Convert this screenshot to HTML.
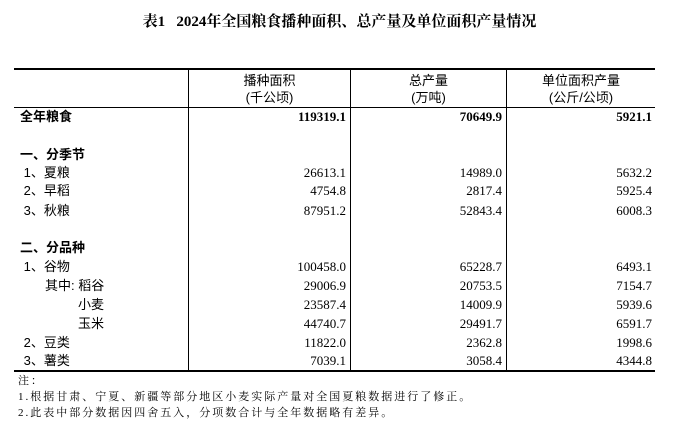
<!DOCTYPE html><html><head><meta charset="utf-8"><style>
body{margin:0;width:679px;height:432px;background:#fff;position:relative;overflow:hidden;font-family:"Liberation Serif","Noto Sans CJK SC",serif;color:#000}
div{position:absolute;white-space:nowrap}
.t{left:0;width:679px;text-align:center;top:10px;font-size:15px;font-weight:bold;font-family:"Liberation Serif","Noto Serif CJK SC",serif}
.h{top:72px;text-align:center;font-size:13px;line-height:17px;font-family:"Liberation Sans","Noto Sans CJK SC",sans-serif}
.l{left:20px;font-size:13px;line-height:18px;font-family:"Liberation Sans","Noto Sans CJK SC",sans-serif}
.n{font-size:13px;line-height:18px;text-align:right;width:120px}
.b{font-weight:bold}
.ln{background:#000}
.note{left:18px;font-size:11px;line-height:16px;letter-spacing:2px;font-family:"Liberation Serif","Noto Serif CJK SC",serif}
</style></head><body>
<div class="t">表1&nbsp;&nbsp;&nbsp;2024年全国粮食播种面积、总产量及单位面积产量情况</div>
<div class="ln" style="left:14px;top:68px;width:641px;height:2px"></div>
<div class="ln" style="left:14px;top:107px;width:641px;height:1px"></div>
<div class="ln" style="left:14px;top:370px;width:641px;height:2px"></div>
<div class="ln" style="left:188px;top:69px;width:1px;height:302px"></div>
<div class="ln" style="left:350px;top:69px;width:1px;height:302px"></div>
<div class="ln" style="left:506px;top:69px;width:1px;height:302px"></div>
<div class="h" style="left:189px;width:161px">播种面积<br>(千公顷)</div>
<div class="h" style="left:351px;width:155px">总产量<br>(万吨)</div>
<div class="h" style="left:507px;width:148px">单位面积产量<br>(公斤/公顷)</div>

<div class="l b" style="top:108px">全年粮食</div>
<div class="n b" style="left:226px;top:108px">119319.1</div>
<div class="n b" style="left:382px;top:108px">70649.9</div>
<div class="n b" style="left:532px;top:108px">5921.1</div>

<div class="l b" style="top:146px">一、分季节</div>
<div class="l" style="top:164px">&nbsp;1、夏粮</div>
<div class="n" style="left:226px;top:164px">26613.1</div><div class="n" style="left:382px;top:164px">14989.0</div><div class="n" style="left:532px;top:164px">5632.2</div>
<div class="l" style="top:182px">&nbsp;2、早稻</div>
<div class="n" style="left:226px;top:182px">4754.8</div><div class="n" style="left:382px;top:182px">2817.4</div><div class="n" style="left:532px;top:182px">5925.4</div>
<div class="l" style="top:202px">&nbsp;3、秋粮</div>
<div class="n" style="left:226px;top:202px">87951.2</div><div class="n" style="left:382px;top:202px">52843.4</div><div class="n" style="left:532px;top:202px">6008.3</div>

<div class="l b" style="top:239px">二、分品种</div>
<div class="l" style="top:258px">&nbsp;1、谷物</div>
<div class="n" style="left:226px;top:258px">100458.0</div><div class="n" style="left:382px;top:258px">65228.7</div><div class="n" style="left:532px;top:258px">6493.1</div>
<div class="l" style="top:277px;left:45px">其中: 稻谷</div>
<div class="n" style="left:226px;top:277px">29006.9</div><div class="n" style="left:382px;top:277px">20753.5</div><div class="n" style="left:532px;top:277px">7154.7</div>
<div class="l" style="top:296px;left:78px">小麦</div>
<div class="n" style="left:226px;top:296px">23587.4</div><div class="n" style="left:382px;top:296px">14009.9</div><div class="n" style="left:532px;top:296px">5939.6</div>
<div class="l" style="top:315px;left:78px">玉米</div>
<div class="n" style="left:226px;top:315px">44740.7</div><div class="n" style="left:382px;top:315px">29491.7</div><div class="n" style="left:532px;top:315px">6591.7</div>
<div class="l" style="top:334px">&nbsp;2、豆类</div>
<div class="n" style="left:226px;top:334px">11822.0</div><div class="n" style="left:382px;top:334px">2362.8</div><div class="n" style="left:532px;top:334px">1998.6</div>
<div class="l" style="top:352px">&nbsp;3、薯类</div>
<div class="n" style="left:226px;top:352px">7039.1</div><div class="n" style="left:382px;top:352px">3058.4</div><div class="n" style="left:532px;top:352px">4344.8</div>

<div class="note" style="top:373px">注：</div>
<div class="note" style="top:389px">1.根据甘肃、宁夏、新疆等部分地区小麦实际产量对全国夏粮数据进行了修正。</div>
<div class="note" style="top:405px">2.此表中部分数据因四舍五入，分项数合计与全年数据略有差异。</div>
</body></html>
